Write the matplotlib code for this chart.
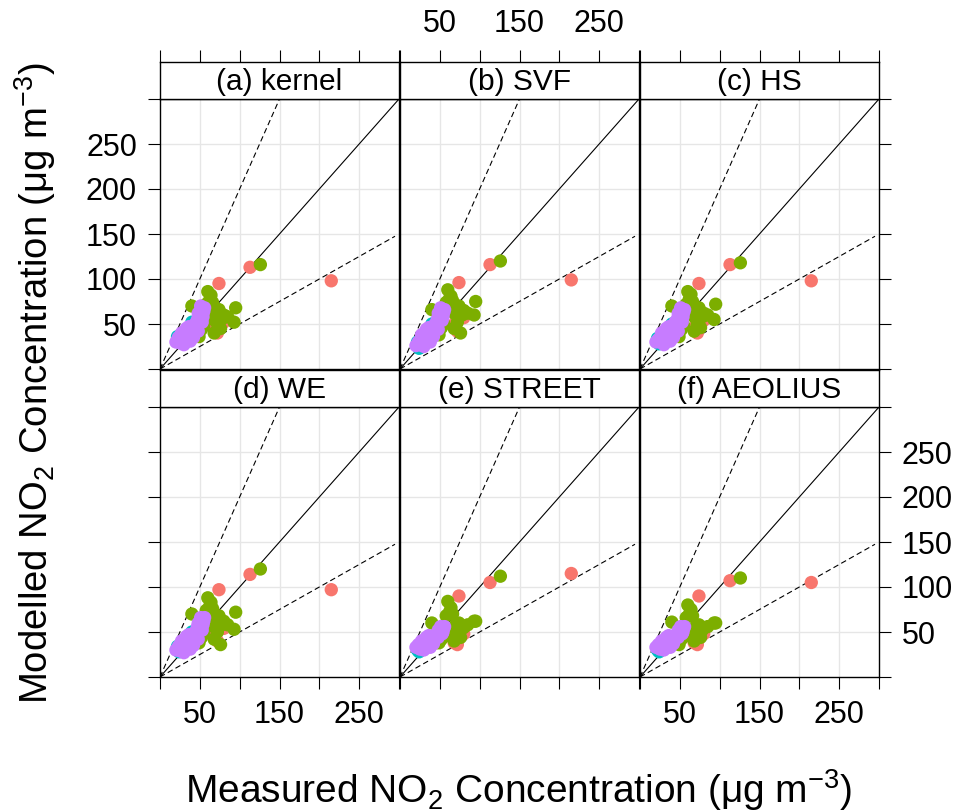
import matplotlib
matplotlib.use("Agg")
import matplotlib.pyplot as plt
import numpy as np

plt.rcParams['font.family'] = ['Liberation Sans', 'DejaVu Sans']
plt.rcParams['mathtext.fontset'] = 'custom'
plt.rcParams['mathtext.rm'] = 'Liberation Sans'
plt.rcParams['mathtext.it'] = 'Liberation Sans:italic'
plt.rcParams['mathtext.default'] = 'regular'

panels = ['(a) kernel', '(b) SVF', '(c) HS', '(d) WE', '(e) STREET', '(f) AEOLIUS']
group_colors = ['#F8766D', '#00BFC4', '#7CAE00', '#C77CFF']

# measured values, same in every panel
red_meas = [74, 113, 215, 68, 80, 72]
cyan_meas = [22, 40, 51, 24]
green_meas = [126, 64, 95, 93, 40, 74, 80, 68, 76, 49, 68, 60, 85, 55, 62, 70, 58, 45, 72, 66, 52, 78]
purple_meas = [20, 23, 26, 28, 31, 34, 36, 38, 40, 42, 25, 30, 35, 44, 47, 50, 52, 54, 56, 48, 51, 55, 45, 33,
               30, 38, 42, 27, 33, 48, 36, 53]

# modelled values, one list per panel
red_mod = [
    [95, 113, 98, 44, 52, 40],
    [96, 116, 99, 50, 57, 42],
    [95, 116, 98, 46, 54, 40],
    [97, 114, 97, 46, 54, 40],
    [90, 105, 115, 38, 48, 36],
    [90, 107, 105, 38, 48, 36],
]
cyan_mod = [
    [36, 52, 46, 30],
    [30, 50, 46, 23],
    [34, 50, 46, 28],
    [34, 50, 46, 28],
    [30, 44, 42, 28],
    [30, 44, 42, 28],
]
green_mod = [
    [116, 82, 68, 52, 70, 66, 60, 55, 45, 36, 40, 86, 58, 48, 76, 62, 72, 40, 50, 74, 44, 56],
    [120, 81, 75, 60, 66, 70, 65, 62, 40, 38, 45, 88, 62, 50, 78, 66, 74, 42, 52, 76, 46, 60],
    [118, 83, 72, 55, 70, 68, 62, 58, 46, 36, 42, 86, 60, 48, 78, 64, 72, 40, 50, 75, 44, 58],
    [120, 83, 72, 53, 70, 68, 62, 56, 36, 38, 42, 88, 58, 48, 78, 64, 74, 40, 50, 76, 44, 58],
    [112, 77, 62, 62, 60, 60, 55, 50, 44, 38, 40, 84, 58, 45, 72, 58, 68, 38, 48, 70, 42, 54],
    [110, 75, 60, 60, 61, 58, 55, 50, 44, 36, 40, 80, 56, 45, 70, 56, 66, 38, 48, 68, 42, 52],
]
purple_mod = [
    [30, 35, 33, 38, 36, 40, 34, 42, 38, 45, 29, 31, 37, 50, 55, 60, 65, 58, 68, 62, 70, 64, 46, 42,
     27, 31, 35, 40, 45, 42, 47, 52],
    [26, 30, 32, 36, 35, 40, 34, 42, 40, 46, 27, 30, 36, 50, 56, 60, 64, 58, 66, 62, 68, 63, 46, 40,
     25, 30, 36, 38, 44, 44, 46, 54],
    [30, 33, 34, 38, 36, 40, 35, 42, 39, 45, 30, 32, 37, 52, 56, 60, 64, 58, 66, 62, 68, 63, 46, 41,
     27, 31, 35, 40, 45, 42, 47, 52],
    [30, 34, 33, 38, 36, 40, 35, 42, 39, 45, 29, 32, 37, 50, 56, 60, 64, 58, 66, 60, 66, 62, 46, 41,
     27, 31, 35, 40, 45, 42, 47, 52],
    [33, 36, 34, 38, 37, 40, 36, 42, 40, 44, 31, 35, 38, 46, 48, 52, 55, 50, 56, 52, 56, 54, 45, 40,
     30, 33, 37, 40, 44, 44, 46, 48],
    [33, 36, 34, 38, 37, 40, 36, 42, 40, 44, 31, 35, 38, 46, 48, 52, 55, 50, 56, 52, 56, 54, 45, 40,
     30, 33, 37, 40, 44, 44, 46, 48],
]

ticks = [0, 50, 100, 150, 200, 250, 300]
tick_labels = ['', '50', '', '150', '', '250', '']
ytick_labels = ['', '50', '100', '150', '200', '250', '']

W, H = 957, 811
fig = plt.figure(figsize=(W / 100, H / 100), dpi=100)

col_left = [160, 400, 640]
pw, ph = 239, 270
row_top = [99, 407]
strip_h = 37

tick_kw = dict(length=8.5, width=0.8, pad=8, labelsize=22, direction='out')

for i, name in enumerate(panels):
    r, c = divmod(i, 3)
    x0 = col_left[c]
    y0 = row_top[r]
    ax = fig.add_axes([x0 / W, (H - y0 - ph) / H, pw / W, ph / H])
    st = fig.add_axes([x0 / W, (H - y0) / H, pw / W, strip_h / H])

    ax.set_xlim(0, 300)
    ax.set_ylim(0, 300)
    ax.set_xticks(ticks)
    ax.set_yticks(ticks)
    for v in ticks[1:-1]:
        ax.axvline(v, color='#E6E6E6', lw=1.0, zorder=0)
        ax.axhline(v, color='#E6E6E6', lw=1.0, zorder=0)

    ax.plot([0, 300], [0, 300], color='black', lw=0.8, zorder=1)
    ax.plot([0, 150], [0, 300], color='black', lw=0.8, ls=(0, (5, 3)), zorder=1)
    ax.plot([0, 295], [0, 147.5], color='black', lw=0.8, ls=(0, (5, 3)), zorder=1)

    groups = [(red_meas, red_mod[i]), (cyan_meas, cyan_mod[i]),
              (green_meas, green_mod[i]), (purple_meas, purple_mod[i])]
    for (mx, my), col in zip(groups, group_colors):
        ax.scatter(mx, my, s=92, color=col, edgecolors='none', zorder=2)

    for sp in ax.spines.values():
        sp.set_linewidth(1.0)

    # lattice style: labels alternate between sides
    ax.tick_params(axis='x', bottom=(r == 1), top=False, labelbottom=(r == 1 and c != 1),
                   labeltop=False, **tick_kw)
    ax.tick_params(axis='y', left=(c == 0), right=(c == 2),
                   labelleft=(c == 0 and r == 0), labelright=(c == 2 and r == 1), **tick_kw)
    ax.set_xticklabels(tick_labels)
    ax.set_yticklabels(ytick_labels)

    # strip
    st.set_xlim(0, 300)
    st.set_ylim(0, 1)
    st.set_yticks([])
    st.set_xticks(ticks)
    st.tick_params(axis='x', bottom=False, labelbottom=False, top=(r == 0),
                   labeltop=(r == 0 and c == 1), **tick_kw)
    st.set_xticklabels(tick_labels)
    for sp in st.spines.values():
        sp.set_linewidth(1.0)
    st.text(0.5, 0.45, name, transform=st.transAxes, ha='center', va='center', fontsize=21.5)

fig.text(35 / W, (H - 383) / H, 'Modelled NO$_2$ Concentration (μg m$^{-3}$)',
         rotation=90, ha='center', va='center', fontsize=27.5)
fig.text(519 / W, (H - 790) / H, 'Measured NO$_2$ Concentration (μg m$^{-3}$)',
         ha='center', va='center', fontsize=28)

fig.savefig('out.png', dpi=100)
